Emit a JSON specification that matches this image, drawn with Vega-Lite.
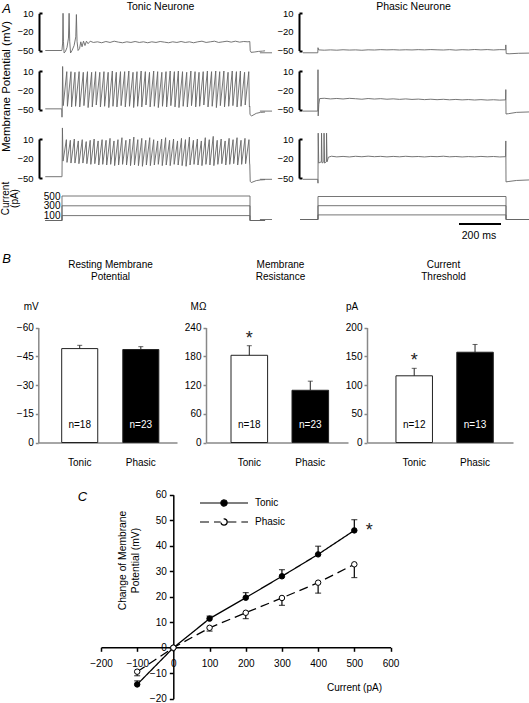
{
"$schema": "https://vega.github.io/schema/vega-lite/v6.json",
"width": 529, "height": 703,
"autosize": {"type": "none"},
"padding": 0,
"config": {
  "font": "Liberation Sans",
  "view": {"stroke": null},
  "axis": {"labelFont": "Liberation Sans", "titleFont": "Liberation Sans", "labelColor": "#000", "titleColor": "#000", "titleFontWeight": "normal", "grid": false, "labelFlush": false, "labelOverlap": false},
  "legend": {"labelFont": "Liberation Sans"},
  "text": {"font": "Liberation Sans"}
},
"datasets": {
"trace": [
{"c":"T1","s":"b","t":20,"v":-50},{"c":"T1","s":"b","t":99,"v":-50},{"c":"T1","s":"b","t":100,"v":-49},{"c":"T1","s":"b","t":103,"v":-38},{"c":"T1","s":"b","t":105,"v":10},{"c":"T1","s":"b","t":107,"v":-35},{"c":"T1","s":"b","t":110,"v":-54},{"c":"T1","s":"b","t":116,"v":-52},{"c":"T1","s":"b","t":124,"v":-45},{"c":"T1","s":"b","t":131,"v":-30},{"c":"T1","s":"b","t":134,"v":10},{"c":"T1","s":"b","t":137,"v":-35},{"c":"T1","s":"b","t":141,"v":-54},{"c":"T1","s":"b","t":148,"v":-50},{"c":"T1","s":"b","t":158,"v":-42},{"c":"T1","s":"b","t":166,"v":-28},{"c":"T1","s":"b","t":169,"v":8},{"c":"T1","s":"b","t":172,"v":-35},{"c":"T1","s":"b","t":177,"v":-50},{"c":"T1","s":"b","t":184,"v":-47},{"c":"T1","s":"b","t":190,"v":-36},{"c":"T1","s":"b","t":196,"v":-44},{"c":"T1","s":"b","t":203,"v":-35},{"c":"T1","s":"b","t":210,"v":-42},{"c":"T1","s":"b","t":217,"v":-35},{"c":"T1","s":"b","t":225,"v":-39},{"c":"T1","s":"b","t":235,"v":-35},{"c":"T1","s":"b","t":250,"v":-37},{"c":"T1","s":"b","t":270,"v":-36},{"c":"T1","s":"b","t":290,"v":-37.5},{"c":"T1","s":"b","t":310,"v":-35.5},{"c":"T1","s":"b","t":330,"v":-37},{"c":"T1","s":"b","t":350,"v":-35},{"c":"T1","s":"b","t":370,"v":-36.5},{"c":"T1","s":"b","t":390,"v":-37.5},{"c":"T1","s":"b","t":410,"v":-36},{"c":"T1","s":"b","t":430,"v":-37},{"c":"T1","s":"b","t":450,"v":-35.5},{"c":"T1","s":"b","t":470,"v":-37},{"c":"T1","s":"b","t":490,"v":-36},{"c":"T1","s":"b","t":510,"v":-37.5},{"c":"T1","s":"b","t":530,"v":-36},{"c":"T1","s":"b","t":550,"v":-37},{"c":"T1","s":"b","t":570,"v":-35.5},{"c":"T1","s":"b","t":590,"v":-36.5},{"c":"T1","s":"b","t":610,"v":-37.5},{"c":"T1","s":"b","t":630,"v":-36},{"c":"T1","s":"b","t":650,"v":-37},{"c":"T1","s":"b","t":670,"v":-35.5},{"c":"T1","s":"b","t":690,"v":-37},{"c":"T1","s":"b","t":710,"v":-36},{"c":"T1","s":"b","t":730,"v":-37.5},{"c":"T1","s":"b","t":750,"v":-36},{"c":"T1","s":"b","t":770,"v":-35},{"c":"T1","s":"b","t":790,"v":-37},{"c":"T1","s":"b","t":810,"v":-36},{"c":"T1","s":"b","t":830,"v":-35},{"c":"T1","s":"b","t":850,"v":-37},{"c":"T1","s":"b","t":870,"v":-36},{"c":"T1","s":"b","t":890,"v":-35},{"c":"T1","s":"b","t":910,"v":-36.5},{"c":"T1","s":"b","t":930,"v":-35},{"c":"T1","s":"b","t":950,"v":-36.5},{"c":"T1","s":"b","t":970,"v":-35.5},{"c":"T1","s":"b","t":990,"v":-36},{"c":"T1","s":"b","t":999,"v":-35.5},{"c":"T1","s":"b","t":1001,"v":-50},{"c":"T1","s":"b","t":1005,"v":-53},{"c":"T1","s":"b","t":1020,"v":-52.5},{"c":"T1","s":"b","t":1040,"v":-51.5},{"c":"T1","s":"b","t":1060,"v":-51},{"c":"T1","s":"b","t":1072,"v":-50.5},
{"c":"T2","s":"b","t":20,"v":-49},{"c":"T2","s":"b","t":99,"v":-49},{"c":"T2","s":"b","t":100,"v":-62},{"c":"T2","s":"b","t":101,"v":-50},
{"c":"T2","s":"b","t":103,"v":17},{"c":"T2","s":"b","t":106,"v":-44},{"c":"T2","s":"b","t":123,"v":9},{"c":"T2","s":"b","t":126,"v":-45},{"c":"T2","s":"b","t":143,"v":9},{"c":"T2","s":"b","t":146,"v":-46},{"c":"T2","s":"b","t":162,"v":8},{"c":"T2","s":"b","t":165,"v":-45},{"c":"T2","s":"b","t":182,"v":9},{"c":"T2","s":"b","t":185,"v":-46},{"c":"T2","s":"b","t":202,"v":8},{"c":"T2","s":"b","t":205,"v":-44},{"c":"T2","s":"b","t":222,"v":9},{"c":"T2","s":"b","t":225,"v":-47},{"c":"T2","s":"b","t":242,"v":8},{"c":"T2","s":"b","t":245,"v":-46},{"c":"T2","s":"b","t":261,"v":9},{"c":"T2","s":"b","t":264,"v":-43},{"c":"T2","s":"b","t":281,"v":8},{"c":"T2","s":"b","t":284,"v":-46},{"c":"T2","s":"b","t":301,"v":9},{"c":"T2","s":"b","t":304,"v":-45},{"c":"T2","s":"b","t":321,"v":8},{"c":"T2","s":"b","t":324,"v":-47},{"c":"T2","s":"b","t":341,"v":10},{"c":"T2","s":"b","t":344,"v":-45},{"c":"T2","s":"b","t":360,"v":8},{"c":"T2","s":"b","t":363,"v":-46},{"c":"T2","s":"b","t":380,"v":9},{"c":"T2","s":"b","t":383,"v":-44},{"c":"T2","s":"b","t":400,"v":9},{"c":"T2","s":"b","t":403,"v":-46},{"c":"T2","s":"b","t":420,"v":10},{"c":"T2","s":"b","t":423,"v":-45},{"c":"T2","s":"b","t":440,"v":8},{"c":"T2","s":"b","t":443,"v":-47},{"c":"T2","s":"b","t":459,"v":9},{"c":"T2","s":"b","t":462,"v":-45},{"c":"T2","s":"b","t":479,"v":10},{"c":"T2","s":"b","t":482,"v":-46},{"c":"T2","s":"b","t":499,"v":9},{"c":"T2","s":"b","t":502,"v":-43},{"c":"T2","s":"b","t":519,"v":8},{"c":"T2","s":"b","t":522,"v":-46},{"c":"T2","s":"b","t":539,"v":10},{"c":"T2","s":"b","t":542,"v":-45},{"c":"T2","s":"b","t":558,"v":9},{"c":"T2","s":"b","t":561,"v":-47},{"c":"T2","s":"b","t":578,"v":8},{"c":"T2","s":"b","t":581,"v":-45},{"c":"T2","s":"b","t":598,"v":9},{"c":"T2","s":"b","t":601,"v":-46},{"c":"T2","s":"b","t":618,"v":10},{"c":"T2","s":"b","t":621,"v":-44},{"c":"T2","s":"b","t":638,"v":9},{"c":"T2","s":"b","t":641,"v":-46},{"c":"T2","s":"b","t":657,"v":10},{"c":"T2","s":"b","t":660,"v":-47},{"c":"T2","s":"b","t":677,"v":9},{"c":"T2","s":"b","t":680,"v":-45},{"c":"T2","s":"b","t":697,"v":8},{"c":"T2","s":"b","t":700,"v":-46},{"c":"T2","s":"b","t":717,"v":10},{"c":"T2","s":"b","t":720,"v":-44},{"c":"T2","s":"b","t":737,"v":9},{"c":"T2","s":"b","t":740,"v":-46},{"c":"T2","s":"b","t":756,"v":8},{"c":"T2","s":"b","t":759,"v":-45},{"c":"T2","s":"b","t":776,"v":9},{"c":"T2","s":"b","t":779,"v":-43},{"c":"T2","s":"b","t":796,"v":10},{"c":"T2","s":"b","t":799,"v":-46},{"c":"T2","s":"b","t":816,"v":9},{"c":"T2","s":"b","t":819,"v":-45},{"c":"T2","s":"b","t":836,"v":10},{"c":"T2","s":"b","t":839,"v":-47},{"c":"T2","s":"b","t":855,"v":9},{"c":"T2","s":"b","t":858,"v":-44},{"c":"T2","s":"b","t":875,"v":10},{"c":"T2","s":"b","t":878,"v":-46},{"c":"T2","s":"b","t":895,"v":8},{"c":"T2","s":"b","t":898,"v":-45},{"c":"T2","s":"b","t":915,"v":10},{"c":"T2","s":"b","t":918,"v":-44},{"c":"T2","s":"b","t":935,"v":9},{"c":"T2","s":"b","t":938,"v":-46},{"c":"T2","s":"b","t":954,"v":10},{"c":"T2","s":"b","t":957,"v":-45},{"c":"T2","s":"b","t":974,"v":8},{"c":"T2","s":"b","t":977,"v":-43},{"c":"T2","s":"b","t":994,"v":9},{"c":"T2","s":"b","t":997,"v":-46},
{"c":"T2","s":"b","t":999,"v":-45},{"c":"T2","s":"b","t":1000,"v":-58},{"c":"T2","s":"b","t":1008,"v":-60},{"c":"T2","s":"b","t":1030,"v":-56},{"c":"T2","s":"b","t":1050,"v":-54.5},{"c":"T2","s":"b","t":1072,"v":-54},
{"c":"T3","s":"b","t":20,"v":-48},{"c":"T3","s":"b","t":99,"v":-48},{"c":"T3","s":"b","t":100,"v":-48},
{"c":"T3","s":"b","t":102,"v":27},{"c":"T3","s":"b","t":105,"v":-24},{"c":"T3","s":"b","t":121,"v":9},{"c":"T3","s":"b","t":124,"v":-26},{"c":"T3","s":"b","t":140,"v":8},{"c":"T3","s":"b","t":143,"v":-27},{"c":"T3","s":"b","t":159,"v":10},{"c":"T3","s":"b","t":162,"v":-27},{"c":"T3","s":"b","t":178,"v":7},{"c":"T3","s":"b","t":181,"v":-28},{"c":"T3","s":"b","t":197,"v":9},{"c":"T3","s":"b","t":200,"v":-27},{"c":"T3","s":"b","t":216,"v":6},{"c":"T3","s":"b","t":219,"v":-28},{"c":"T3","s":"b","t":235,"v":8},{"c":"T3","s":"b","t":238,"v":-29},{"c":"T3","s":"b","t":254,"v":10},{"c":"T3","s":"b","t":257,"v":-28},{"c":"T3","s":"b","t":273,"v":7},{"c":"T3","s":"b","t":276,"v":-30},{"c":"T3","s":"b","t":292,"v":9},{"c":"T3","s":"b","t":295,"v":-29},{"c":"T3","s":"b","t":311,"v":8},{"c":"T3","s":"b","t":314,"v":-30},{"c":"T3","s":"b","t":330,"v":11},{"c":"T3","s":"b","t":333,"v":-29},{"c":"T3","s":"b","t":349,"v":7},{"c":"T3","s":"b","t":352,"v":-31},{"c":"T3","s":"b","t":368,"v":9},{"c":"T3","s":"b","t":371,"v":-30},{"c":"T3","s":"b","t":387,"v":12},{"c":"T3","s":"b","t":390,"v":-29},{"c":"T3","s":"b","t":406,"v":8},{"c":"T3","s":"b","t":409,"v":-30},{"c":"T3","s":"b","t":425,"v":10},{"c":"T3","s":"b","t":428,"v":-31},{"c":"T3","s":"b","t":444,"v":13},{"c":"T3","s":"b","t":447,"v":-30},{"c":"T3","s":"b","t":463,"v":9},{"c":"T3","s":"b","t":466,"v":-31},{"c":"T3","s":"b","t":482,"v":11},{"c":"T3","s":"b","t":485,"v":-32},{"c":"T3","s":"b","t":501,"v":8},{"c":"T3","s":"b","t":504,"v":-30},{"c":"T3","s":"b","t":520,"v":12},{"c":"T3","s":"b","t":523,"v":-31},{"c":"T3","s":"b","t":539,"v":9},{"c":"T3","s":"b","t":542,"v":-30},{"c":"T3","s":"b","t":558,"v":7},{"c":"T3","s":"b","t":561,"v":-29},{"c":"T3","s":"b","t":577,"v":10},{"c":"T3","s":"b","t":580,"v":-31},{"c":"T3","s":"b","t":596,"v":12},{"c":"T3","s":"b","t":599,"v":-30},{"c":"T3","s":"b","t":615,"v":8},{"c":"T3","s":"b","t":618,"v":-31},{"c":"T3","s":"b","t":634,"v":10},{"c":"T3","s":"b","t":637,"v":-29},{"c":"T3","s":"b","t":653,"v":7},{"c":"T3","s":"b","t":656,"v":-30},{"c":"T3","s":"b","t":672,"v":11},{"c":"T3","s":"b","t":675,"v":-31},{"c":"T3","s":"b","t":691,"v":9},{"c":"T3","s":"b","t":694,"v":-32},{"c":"T3","s":"b","t":710,"v":13},{"c":"T3","s":"b","t":713,"v":-30},{"c":"T3","s":"b","t":729,"v":8},{"c":"T3","s":"b","t":732,"v":-29},{"c":"T3","s":"b","t":748,"v":10},{"c":"T3","s":"b","t":751,"v":-30},{"c":"T3","s":"b","t":767,"v":7},{"c":"T3","s":"b","t":770,"v":-31},{"c":"T3","s":"b","t":786,"v":12},{"c":"T3","s":"b","t":789,"v":-29},{"c":"T3","s":"b","t":805,"v":9},{"c":"T3","s":"b","t":808,"v":-30},{"c":"T3","s":"b","t":824,"v":14},{"c":"T3","s":"b","t":827,"v":-31},{"c":"T3","s":"b","t":843,"v":8},{"c":"T3","s":"b","t":846,"v":-29},{"c":"T3","s":"b","t":862,"v":10},{"c":"T3","s":"b","t":865,"v":-28},{"c":"T3","s":"b","t":881,"v":7},{"c":"T3","s":"b","t":884,"v":-30},{"c":"T3","s":"b","t":900,"v":11},{"c":"T3","s":"b","t":903,"v":-29},{"c":"T3","s":"b","t":919,"v":9},{"c":"T3","s":"b","t":922,"v":-28},{"c":"T3","s":"b","t":938,"v":12},{"c":"T3","s":"b","t":941,"v":-30},{"c":"T3","s":"b","t":957,"v":8},{"c":"T3","s":"b","t":960,"v":-29},{"c":"T3","s":"b","t":976,"v":11},{"c":"T3","s":"b","t":979,"v":-28},{"c":"T3","s":"b","t":995,"v":9},{"c":"T3","s":"b","t":998,"v":-27},
{"c":"T3","s":"b","t":999,"v":-30},{"c":"T3","s":"b","t":1001,"v":-55},{"c":"T3","s":"b","t":1006,"v":-57},{"c":"T3","s":"b","t":1030,"v":-54},{"c":"T3","s":"b","t":1050,"v":-53},{"c":"T3","s":"b","t":1072,"v":-52.5},
{"c":"TI","s":"100","t":20,"v":0},{"c":"TI","s":"100","t":100,"v":0},{"c":"TI","s":"100","t":100,"v":100},{"c":"TI","s":"100","t":1000,"v":100},{"c":"TI","s":"100","t":1000,"v":0},{"c":"TI","s":"100","t":1072,"v":0},
{"c":"TI","s":"300","t":20,"v":0},{"c":"TI","s":"300","t":100,"v":0},{"c":"TI","s":"300","t":100,"v":300},{"c":"TI","s":"300","t":1000,"v":300},{"c":"TI","s":"300","t":1000,"v":0},{"c":"TI","s":"300","t":1072,"v":0},
{"c":"TI","s":"500","t":20,"v":0},{"c":"TI","s":"500","t":100,"v":0},{"c":"TI","s":"500","t":100,"v":500},{"c":"TI","s":"500","t":1000,"v":500},{"c":"TI","s":"500","t":1000,"v":0},{"c":"TI","s":"500","t":1072,"v":0},
{"c":"P1","s":"a","t":-178,"v":-53.7},{"c":"P1","s":"a","t":-120,"v":-53.7},
{"c":"P1","s":"b","t":28,"v":-53.7},{"c":"P1","s":"b","t":99,"v":-53.7},{"c":"P1","s":"b","t":100,"v":-45.5},{"c":"P1","s":"b","t":103,"v":-49},{"c":"P1","s":"b","t":130,"v":-49.5},{"c":"P1","s":"b","t":160,"v":-49},{"c":"P1","s":"b","t":190,"v":-49.5},{"c":"P1","s":"b","t":220,"v":-48.8},{"c":"P1","s":"b","t":250,"v":-49.3},{"c":"P1","s":"b","t":280,"v":-49},{"c":"P1","s":"b","t":310,"v":-49.6},{"c":"P1","s":"b","t":340,"v":-48.9},{"c":"P1","s":"b","t":370,"v":-49.2},{"c":"P1","s":"b","t":400,"v":-48.6},{"c":"P1","s":"b","t":430,"v":-49},{"c":"P1","s":"b","t":460,"v":-48.7},{"c":"P1","s":"b","t":490,"v":-49.2},{"c":"P1","s":"b","t":520,"v":-48.8},{"c":"P1","s":"b","t":550,"v":-49.1},{"c":"P1","s":"b","t":580,"v":-48.6},{"c":"P1","s":"b","t":610,"v":-49},{"c":"P1","s":"b","t":640,"v":-48.5},{"c":"P1","s":"b","t":670,"v":-48.9},{"c":"P1","s":"b","t":700,"v":-49.2},{"c":"P1","s":"b","t":730,"v":-48.6},{"c":"P1","s":"b","t":760,"v":-49.4},{"c":"P1","s":"b","t":790,"v":-48.7},{"c":"P1","s":"b","t":820,"v":-49.1},{"c":"P1","s":"b","t":850,"v":-48.4},{"c":"P1","s":"b","t":880,"v":-49},{"c":"P1","s":"b","t":910,"v":-48.5},{"c":"P1","s":"b","t":940,"v":-49.2},{"c":"P1","s":"b","t":970,"v":-48.6},{"c":"P1","s":"b","t":998,"v":-48.8},{"c":"P1","s":"b","t":999,"v":-41},{"c":"P1","s":"b","t":1001,"v":-55},{"c":"P1","s":"b","t":1015,"v":-55.3},{"c":"P1","s":"b","t":1060,"v":-54.5},{"c":"P1","s":"b","t":1110,"v":-54.2},
{"c":"P2","s":"a","t":-178,"v":-52.5},{"c":"P2","s":"a","t":-120,"v":-52.5},
{"c":"P2","s":"b","t":28,"v":-52.5},{"c":"P2","s":"b","t":99,"v":-52.5},{"c":"P2","s":"b","t":100,"v":12},{"c":"P2","s":"b","t":101,"v":-60},{"c":"P2","s":"b","t":104,"v":-42},{"c":"P2","s":"b","t":108,"v":-33},{"c":"P2","s":"b","t":130,"v":-32.5},{"c":"P2","s":"b","t":160,"v":-33.5},{"c":"P2","s":"b","t":190,"v":-32.8},{"c":"P2","s":"b","t":220,"v":-33.6},{"c":"P2","s":"b","t":250,"v":-32.6},{"c":"P2","s":"b","t":280,"v":-33.2},{"c":"P2","s":"b","t":310,"v":-34},{"c":"P2","s":"b","t":340,"v":-32.9},{"c":"P2","s":"b","t":370,"v":-33.7},{"c":"P2","s":"b","t":400,"v":-33.1},{"c":"P2","s":"b","t":430,"v":-34},{"c":"P2","s":"b","t":460,"v":-33.4},{"c":"P2","s":"b","t":490,"v":-34.2},{"c":"P2","s":"b","t":520,"v":-33.5},{"c":"P2","s":"b","t":550,"v":-34.3},{"c":"P2","s":"b","t":580,"v":-33.8},{"c":"P2","s":"b","t":610,"v":-34.6},{"c":"P2","s":"b","t":640,"v":-34},{"c":"P2","s":"b","t":670,"v":-34.7},{"c":"P2","s":"b","t":700,"v":-34.1},{"c":"P2","s":"b","t":730,"v":-34.9},{"c":"P2","s":"b","t":760,"v":-34.3},{"c":"P2","s":"b","t":790,"v":-35},{"c":"P2","s":"b","t":820,"v":-34.5},{"c":"P2","s":"b","t":850,"v":-35.2},{"c":"P2","s":"b","t":880,"v":-34.6},{"c":"P2","s":"b","t":910,"v":-35.3},{"c":"P2","s":"b","t":940,"v":-34.8},{"c":"P2","s":"b","t":970,"v":-35.4},{"c":"P2","s":"b","t":998,"v":-35},{"c":"P2","s":"b","t":999,"v":-19},{"c":"P2","s":"b","t":1000,"v":-57},{"c":"P2","s":"b","t":1012,"v":-56.5},{"c":"P2","s":"b","t":1050,"v":-54.5},{"c":"P2","s":"b","t":1110,"v":-53.8},
{"c":"P3","s":"a","t":-178,"v":-52},{"c":"P3","s":"a","t":-120,"v":-52},
{"c":"P3","s":"b","t":28,"v":-52},{"c":"P3","s":"b","t":99,"v":-52},{"c":"P3","s":"b","t":100,"v":-58},{"c":"P3","s":"b","t":101,"v":19},{"c":"P3","s":"b","t":103.5,"v":-27},{"c":"P3","s":"b","t":116,"v":-25},{"c":"P3","s":"b","t":117,"v":19},{"c":"P3","s":"b","t":119.5,"v":-27},{"c":"P3","s":"b","t":128,"v":-25},{"c":"P3","s":"b","t":129,"v":19},{"c":"P3","s":"b","t":131.5,"v":-27},{"c":"P3","s":"b","t":140,"v":-25},{"c":"P3","s":"b","t":141,"v":19},{"c":"P3","s":"b","t":143.5,"v":-25},{"c":"P3","s":"b","t":150,"v":-18},{"c":"P3","s":"b","t":165,"v":-16.5},{"c":"P3","s":"b","t":190,"v":-17.5},{"c":"P3","s":"b","t":220,"v":-16.8},{"c":"P3","s":"b","t":250,"v":-17.6},{"c":"P3","s":"b","t":280,"v":-16.6},{"c":"P3","s":"b","t":310,"v":-17.3},{"c":"P3","s":"b","t":340,"v":-16.4},{"c":"P3","s":"b","t":370,"v":-17.2},{"c":"P3","s":"b","t":400,"v":-16.7},{"c":"P3","s":"b","t":430,"v":-17.5},{"c":"P3","s":"b","t":460,"v":-16.8},{"c":"P3","s":"b","t":490,"v":-17.4},{"c":"P3","s":"b","t":520,"v":-16.6},{"c":"P3","s":"b","t":550,"v":-17.3},{"c":"P3","s":"b","t":580,"v":-16.9},{"c":"P3","s":"b","t":610,"v":-17.6},{"c":"P3","s":"b","t":640,"v":-16.8},{"c":"P3","s":"b","t":670,"v":-17.2},{"c":"P3","s":"b","t":700,"v":-16.5},{"c":"P3","s":"b","t":730,"v":-17.4},{"c":"P3","s":"b","t":760,"v":-16.9},{"c":"P3","s":"b","t":790,"v":-17.6},{"c":"P3","s":"b","t":820,"v":-17},{"c":"P3","s":"b","t":850,"v":-17.5},{"c":"P3","s":"b","t":880,"v":-16.8},{"c":"P3","s":"b","t":910,"v":-17.4},{"c":"P3","s":"b","t":940,"v":-16.9},{"c":"P3","s":"b","t":970,"v":-17.6},{"c":"P3","s":"b","t":998,"v":-17.2},{"c":"P3","s":"b","t":999,"v":7},{"c":"P3","s":"b","t":1000,"v":-56},{"c":"P3","s":"b","t":1010,"v":-55.5},{"c":"P3","s":"b","t":1050,"v":-53.8},{"c":"P3","s":"b","t":1110,"v":-53},
{"c":"PI","s":"a","t":-178,"v":0},{"c":"PI","s":"a","t":-120,"v":0},
{"c":"PI","s":"100","t":14,"v":0},{"c":"PI","s":"100","t":100,"v":0},{"c":"PI","s":"100","t":100,"v":100},{"c":"PI","s":"100","t":1000,"v":100},{"c":"PI","s":"100","t":1000,"v":0},{"c":"PI","s":"100","t":1110,"v":0},
{"c":"PI","s":"300","t":14,"v":0},{"c":"PI","s":"300","t":100,"v":0},{"c":"PI","s":"300","t":100,"v":300},{"c":"PI","s":"300","t":1000,"v":300},{"c":"PI","s":"300","t":1000,"v":0},{"c":"PI","s":"300","t":1110,"v":0},
{"c":"PI","s":"500","t":14,"v":0},{"c":"PI","s":"500","t":100,"v":0},{"c":"PI","s":"500","t":100,"v":500},{"c":"PI","s":"500","t":1000,"v":500},{"c":"PI","s":"500","t":1000,"v":0},{"c":"PI","s":"500","t":1110,"v":0}
],
"bars": [
{"panel":"rmp","group":"Tonic","mean":-49,"ebar":-50.7,"n":"n=18","sig":""},
{"panel":"rmp","group":"Phasic","mean":-48.5,"ebar":-50,"n":"n=23","sig":""},
{"panel":"res","group":"Tonic","mean":182,"ebar":202,"n":"n=18","sig":"*"},
{"panel":"res","group":"Phasic","mean":109,"ebar":128,"n":"n=23","sig":""},
{"panel":"thr","group":"Tonic","mean":116,"ebar":129,"n":"n=12","sig":"*"},
{"panel":"thr","group":"Phasic","mean":157,"ebar":170.5,"n":"n=13","sig":""}
],
"iv": [
{"series":"Tonic","I":-100,"mean":-14.4,"ebar":-13,"sig":""},
{"series":"Tonic","I":0,"mean":0,"ebar":null,"sig":""},
{"series":"Tonic","I":100,"mean":11.4,"ebar":12.4,"sig":""},
{"series":"Tonic","I":200,"mean":19.6,"ebar":21.6,"sig":""},
{"series":"Tonic","I":300,"mean":28,"ebar":30.6,"sig":""},
{"series":"Tonic","I":400,"mean":36.6,"ebar":39.8,"sig":""},
{"series":"Tonic","I":500,"mean":46,"ebar":50.2,"sig":"*"},
{"series":"Phasic","I":-100,"mean":-9.4,"ebar":-11,"sig":""},
{"series":"Phasic","I":0,"mean":0,"ebar":null,"sig":""},
{"series":"Phasic","I":100,"mean":7.8,"ebar":6.5,"sig":""},
{"series":"Phasic","I":200,"mean":13.7,"ebar":11.4,"sig":""},
{"series":"Phasic","I":300,"mean":19.5,"ebar":16.6,"sig":""},
{"series":"Phasic","I":400,"mean":25.5,"ebar":21.4,"sig":""},
{"series":"Phasic","I":500,"mean":32.7,"ebar":27.5,"sig":""}
]
},
"resolve": {
  "scale": {"x": "independent", "y": "independent", "fill": "independent", "strokeDash": "independent", "color": "independent"},
  "axis": {"x": "independent", "y": "independent"}
},
"layer": [
{
  "data": {"name": "trace"},
  "transform": [{"filter": "datum.c === 'T1'"}],
  "mark": {"type": "line", "color": "#666", "strokeWidth": 0.9},
  "encoding": {
    "x": {"field": "t", "type": "quantitative", "scale": {"domain": [0, 1100], "range": [41.1, 270.9], "nice": false, "zero": false},
      "axis": {"orient": "top", "offset": 0, "domain": false, "ticks": false, "labels": false, "title": "Tonic Neurone", "titleX": 160, "titleY": 6, "titleAlign": "center", "titleBaseline": "middle", "titleAngle": 0, "titleFontSize": 10.5}},
    "y": {"field": "v", "type": "quantitative", "scale": {"domain": [-50, 10], "range": [50.5, 13.3], "nice": false, "zero": false},
      "axis": {"orient": "left", "offset": -39, "values": [10, -20, -50], "domainColor": "#000", "domainWidth": 2, "tickColor": "#000", "tickWidth": 2, "tickSize": -3, "tickOpacity": {"condition": {"test": "datum.value === -20", "value": 0}, "value": 1}, "labelFontSize": 9.5, "labelPadding": 9, "title": null}},
    "detail": {"field": "s"},
    "order": {"value": null}
  }
},
{
  "data": {"name": "trace"},
  "transform": [{"filter": "datum.c === 'T2'"}],
  "mark": {"type": "line", "color": "#666", "strokeWidth": 0.9},
  "encoding": {
    "x": {"field": "t", "type": "quantitative", "scale": {"domain": [0, 1100], "range": [41.1, 270.9], "nice": false, "zero": false},
      "axis": {"orient": "top", "offset": 0, "domain": false, "ticks": false, "labels": false, "title": "A", "titleX": 6, "titleY": 8.5, "titleAlign": "center", "titleBaseline": "middle", "titleAngle": 0, "titleFontSize": 13, "titleFontStyle": "italic"}},
    "y": {"field": "v", "type": "quantitative", "scale": {"domain": [-50, 10], "range": [109.5, 71], "nice": false, "zero": false},
      "axis": {"orient": "left", "offset": -39, "values": [10, -20, -50], "domainColor": "#000", "domainWidth": 2, "tickColor": "#000", "tickWidth": 2, "tickSize": -3, "tickOpacity": {"condition": {"test": "datum.value === -20", "value": 0}, "value": 1}, "labelFontSize": 9.5, "labelPadding": 9,
        "title": "Membrane Potential (mV)", "titleAngle": -90, "titleX": -38.5, "titleY": 86, "titleAlign": "center", "titleBaseline": "top", "titleFontSize": 11.5}},
    "detail": {"field": "s"},
    "order": {"value": null}
  }
},
{
  "data": {"name": "trace"},
  "transform": [{"filter": "datum.c === 'T3'"}],
  "mark": {"type": "line", "color": "#666", "strokeWidth": 0.9},
  "encoding": {
    "x": {"field": "t", "type": "quantitative", "scale": {"domain": [0, 1100], "range": [41.1, 270.9], "nice": false, "zero": false},
      "axis": {"orient": "top", "offset": 0, "domain": false, "ticks": false, "labels": false, "title": "B", "titleX": 6, "titleY": 258, "titleAlign": "center", "titleBaseline": "middle", "titleAngle": 0, "titleFontSize": 13, "titleFontStyle": "italic"}},
    "y": {"field": "v", "type": "quantitative", "scale": {"domain": [-50, 10], "range": [178, 139], "nice": false, "zero": false},
      "axis": {"orient": "left", "offset": -39, "values": [10, -20, -50], "domainColor": "#000", "domainWidth": 2, "tickColor": "#000", "tickWidth": 2, "tickSize": -3, "tickOpacity": {"condition": {"test": "datum.value === -20", "value": 0}, "value": 1}, "labelFontSize": 9.5, "labelPadding": 9, "title": null}},
    "detail": {"field": "s"},
    "order": {"value": null}
  }
},
{
  "data": {"name": "trace"},
  "transform": [{"filter": "datum.c === 'TI'"}],
  "mark": {"type": "line", "color": "#666", "strokeWidth": 0.9},
  "encoding": {
    "x": {"field": "t", "type": "quantitative", "scale": {"domain": [0, 1100], "range": [41.1, 270.9], "nice": false, "zero": false}, "axis": null},
    "y": {"field": "v", "type": "quantitative", "scale": {"domain": [0, 500], "range": [220.5, 196], "nice": false, "zero": false},
      "axis": {"orient": "left", "offset": -62, "values": [500, 300, 100], "domain": false, "ticks": false, "labelPadding": 2, "labelFontSize": 10,
        "title": ["Current", "(pA)"], "titleAngle": -90, "titleX": -62, "titleY": 198, "titleAlign": "center", "titleBaseline": "top", "titleLineHeight": 9.5, "titleFontSize": 10}},
    "detail": {"field": "s"},
    "order": {"value": null}
  }
},
{
  "data": {"name": "trace"},
  "transform": [{"filter": "datum.c === 'P1'"}],
  "mark": {"type": "line", "color": "#666", "strokeWidth": 0.9},
  "encoding": {
    "x": {"field": "t", "type": "quantitative", "scale": {"domain": [0, 1100], "range": [297.1, 526.9], "nice": false, "zero": false},
      "axis": {"orient": "top", "offset": 0, "domain": false, "ticks": false, "labels": false, "title": "Phasic Neurone", "titleX": 413, "titleY": 6, "titleAlign": "center", "titleBaseline": "middle", "titleAngle": 0, "titleFontSize": 10.5}},
    "y": {"field": "v", "type": "quantitative", "scale": {"domain": [-50, 10], "range": [50.5, 13.3], "nice": false, "zero": false},
      "axis": {"orient": "left", "offset": -299, "values": [10, -20, -50], "domainColor": "#000", "domainWidth": 2, "tickColor": "#000", "tickWidth": 2, "tickSize": -3, "tickOpacity": {"condition": {"test": "datum.value === -20", "value": 0}, "value": 1}, "labelFontSize": 9.5, "labelPadding": 9, "title": null}},
    "detail": {"field": "s"},
    "order": {"value": null}
  }
},
{
  "data": {"name": "trace"},
  "transform": [{"filter": "datum.c === 'P2'"}],
  "mark": {"type": "line", "color": "#666", "strokeWidth": 0.9},
  "encoding": {
    "x": {"field": "t", "type": "quantitative", "scale": {"domain": [0, 1100], "range": [297.1, 526.9], "nice": false, "zero": false},
      "axis": {"orient": "top", "offset": 0, "domain": false, "ticks": false, "labels": false, "title": "C", "titleX": 82, "titleY": 496, "titleAlign": "center", "titleBaseline": "middle", "titleAngle": 0, "titleFontSize": 13, "titleFontStyle": "italic"}},
    "y": {"field": "v", "type": "quantitative", "scale": {"domain": [-50, 10], "range": [109.5, 71], "nice": false, "zero": false},
      "axis": {"orient": "left", "offset": -299, "values": [10, -20, -50], "domainColor": "#000", "domainWidth": 2, "tickColor": "#000", "tickWidth": 2, "tickSize": -3, "tickOpacity": {"condition": {"test": "datum.value === -20", "value": 0}, "value": 1}, "labelFontSize": 9.5, "labelPadding": 9, "title": null}},
    "detail": {"field": "s"},
    "order": {"value": null}
  }
},
{
  "data": {"name": "trace"},
  "transform": [{"filter": "datum.c === 'P3'"}],
  "mark": {"type": "line", "color": "#666", "strokeWidth": 0.9},
  "encoding": {
    "x": {"field": "t", "type": "quantitative", "scale": {"domain": [0, 1100], "range": [297.1, 526.9], "nice": false, "zero": false}, "axis": null},
    "y": {"field": "v", "type": "quantitative", "scale": {"domain": [-50, 10], "range": [178, 139], "nice": false, "zero": false},
      "axis": {"orient": "left", "offset": -299, "values": [10, -20, -50], "domainColor": "#000", "domainWidth": 2, "tickColor": "#000", "tickWidth": 2, "tickSize": -3, "tickOpacity": {"condition": {"test": "datum.value === -20", "value": 0}, "value": 1}, "labelFontSize": 9.5, "labelPadding": 9, "title": null}},
    "detail": {"field": "s"},
    "order": {"value": null}
  }
},
{
  "data": {"name": "trace"},
  "transform": [{"filter": "datum.c === 'PI'"}],
  "mark": {"type": "line", "color": "#666", "strokeWidth": 0.9},
  "encoding": {
    "x": {"field": "t", "type": "quantitative", "scale": {"domain": [0, 1100], "range": [297.1, 526.9], "nice": false, "zero": false}, "axis": null},
    "y": {"field": "v", "type": "quantitative", "scale": {"domain": [0, 500], "range": [219.5, 196.5], "nice": false, "zero": false}, "axis": null},
    "detail": {"field": "s"},
    "order": {"value": null}
  }
},
{
  "data": {"values": [{"start": 0, "end": 200}]},
  "mark": {"type": "rule", "color": "#000", "strokeWidth": 2},
  "encoding": {
    "x": {"field": "start", "type": "quantitative", "scale": {"domain": [0, 200], "range": [459, 501], "nice": false, "zero": false},
      "axis": {"orient": "bottom", "offset": -479, "domain": false, "ticks": false, "labels": false, "title": "200 ms", "titleX": 478.5, "titleY": 11, "titleAlign": "center", "titleBaseline": "middle", "titleAngle": 0, "titleFontSize": 10.5}},
    "x2": {"field": "end"},
    "y": {"datum": 0, "type": "quantitative", "scale": {"domain": [0, 1], "range": [224, 225], "nice": false, "zero": false}, "axis": null}
  }
},
{
  "data": {"name": "bars"},
  "transform": [{"filter": "datum.panel === 'rmp'"}],
  "encoding": {
    "x": {"field": "group", "type": "nominal", "scale": {"domain": ["Tonic", "Phasic"], "range": [38.3, 177], "paddingInner": 0.41, "paddingOuter": 0.34, "align": 0.563},
      "axis": {"orient": "bottom", "offset": -260.5, "domainColor": "#888", "domainWidth": 1.5, "ticks": false, "labelPadding": 20, "labelBaseline": "middle", "labelAngle": 0, "labelFontSize": 10,
        "title": ["Resting Membrane", "Potential"], "titleX": 110, "titleY": -183.2, "titleAlign": "center", "titleBaseline": "top", "titleLineHeight": 12, "titleFontSize": 10, "titleAngle": 0}}
  },
  "layer": [
    {"mark": {"type": "bar", "stroke": "#222", "strokeWidth": 1},
     "encoding": {
       "y": {"field": "mean", "type": "quantitative", "scale": {"domain": [-60, 0], "range": [327.5, 442.5], "nice": false},
         "axis": {"orient": "left", "offset": -38.3, "values": [0, -15, -30, -45, -60], "domainColor": "#888", "domainWidth": 1.5, "tickColor": "#888", "tickWidth": 1.5, "tickSize": 3, "labelPadding": 2, "labelFontSize": 10,
           "title": "mV", "titleAngle": 0, "titleX": -7.6, "titleY": 306, "titleAlign": "center", "titleBaseline": "middle", "titleFontSize": 10}},
       "fill": {"condition": {"test": "datum.group === 'Phasic'", "value": "#000"}, "value": "#fff"}}},
    {"mark": {"type": "rule", "color": "#222", "strokeWidth": 1},
     "encoding": {"y": {"field": "mean", "type": "quantitative"}, "y2": {"field": "ebar"}}},
    {"mark": {"type": "tick", "orient": "horizontal", "size": 5, "thickness": 1, "color": "#222"},
     "encoding": {"y": {"field": "ebar", "type": "quantitative"}}},
    {"mark": {"type": "text", "fontSize": 10, "dy": -18, "baseline": "middle"},
     "encoding": {"y": {"datum": 0, "type": "quantitative"}, "text": {"field": "n"},
       "color": {"condition": {"test": "datum.group === 'Phasic'", "value": "#fff"}, "value": "#000"}}},
    {"mark": {"type": "text", "fontSize": 18, "dy": -2, "baseline": "alphabetic", "color": "#222"},
     "encoding": {"y": {"field": "ebar", "type": "quantitative"}, "text": {"field": "sig"}}}
  ]
},
{
  "data": {"name": "bars"},
  "transform": [{"filter": "datum.panel === 'res'"}],
  "encoding": {
    "x": {"field": "group", "type": "nominal", "scale": {"domain": ["Tonic", "Phasic"], "range": [206, 348], "paddingInner": 0.4, "paddingOuter": 0.364, "align": 0.563},
      "axis": {"orient": "bottom", "offset": -260.5, "domainColor": "#888", "domainWidth": 1.5, "ticks": false, "labelPadding": 20, "labelBaseline": "middle", "labelAngle": 0, "labelFontSize": 10,
        "title": ["Membrane", "Resistance"], "titleX": 280, "titleY": -183.2, "titleAlign": "center", "titleBaseline": "top", "titleLineHeight": 12, "titleFontSize": 10, "titleAngle": 0}}
  },
  "layer": [
    {"mark": {"type": "bar", "stroke": "#222", "strokeWidth": 1},
     "encoding": {
       "y": {"field": "mean", "type": "quantitative", "scale": {"domain": [0, 240], "range": [442.5, 327.5], "nice": false},
         "axis": {"orient": "left", "offset": -206, "values": [0, 60, 120, 180, 240], "domainColor": "#888", "domainWidth": 1.5, "tickColor": "#888", "tickWidth": 1.5, "tickSize": 3, "labelPadding": 2, "labelFontSize": 10,
           "title": "MΩ", "titleAngle": 0, "titleX": -8, "titleY": 306, "titleAlign": "center", "titleBaseline": "middle", "titleFontSize": 10}},
       "fill": {"condition": {"test": "datum.group === 'Phasic'", "value": "#000"}, "value": "#fff"}}},
    {"mark": {"type": "rule", "color": "#222", "strokeWidth": 1},
     "encoding": {"y": {"field": "mean", "type": "quantitative"}, "y2": {"field": "ebar"}}},
    {"mark": {"type": "tick", "orient": "horizontal", "size": 5, "thickness": 1, "color": "#222"},
     "encoding": {"y": {"field": "ebar", "type": "quantitative"}}},
    {"mark": {"type": "text", "fontSize": 10, "dy": -18, "baseline": "middle"},
     "encoding": {"y": {"datum": 0, "type": "quantitative"}, "text": {"field": "n"},
       "color": {"condition": {"test": "datum.group === 'Phasic'", "value": "#fff"}, "value": "#000"}}},
    {"mark": {"type": "text", "fontSize": 18, "dy": -2, "baseline": "alphabetic", "color": "#222"},
     "encoding": {"y": {"field": "ebar", "type": "quantitative"}, "text": {"field": "sig"}}}
  ]
},
{
  "data": {"name": "bars"},
  "transform": [{"filter": "datum.panel === 'thr'"}],
  "encoding": {
    "x": {"field": "group", "type": "nominal", "scale": {"domain": ["Tonic", "Phasic"], "range": [367, 513], "paddingInner": 0.4, "paddingOuter": 0.4, "align": 0.595},
      "axis": {"orient": "bottom", "offset": -260.5, "domainColor": "#888", "domainWidth": 1.5, "ticks": false, "labelPadding": 20, "labelBaseline": "middle", "labelAngle": 0, "labelFontSize": 10,
        "title": ["Current", "Threshold"], "titleX": 443, "titleY": -183.2, "titleAlign": "center", "titleBaseline": "top", "titleLineHeight": 12, "titleFontSize": 10, "titleAngle": 0}}
  },
  "layer": [
    {"mark": {"type": "bar", "stroke": "#222", "strokeWidth": 1},
     "encoding": {
       "y": {"field": "mean", "type": "quantitative", "scale": {"domain": [0, 200], "range": [442.5, 327.5], "nice": false},
         "axis": {"orient": "left", "offset": -367, "values": [0, 50, 100, 150, 200], "domainColor": "#888", "domainWidth": 1.5, "tickColor": "#888", "tickWidth": 1.5, "tickSize": 3, "labelPadding": 2, "labelFontSize": 10,
           "title": "pA", "titleAngle": 0, "titleX": -15.5, "titleY": 306, "titleAlign": "center", "titleBaseline": "middle", "titleFontSize": 10}},
       "fill": {"condition": {"test": "datum.group === 'Phasic'", "value": "#000"}, "value": "#fff"}}},
    {"mark": {"type": "rule", "color": "#222", "strokeWidth": 1},
     "encoding": {"y": {"field": "mean", "type": "quantitative"}, "y2": {"field": "ebar"}}},
    {"mark": {"type": "tick", "orient": "horizontal", "size": 5, "thickness": 1, "color": "#222"},
     "encoding": {"y": {"field": "ebar", "type": "quantitative"}}},
    {"mark": {"type": "text", "fontSize": 10, "dy": -18, "baseline": "middle"},
     "encoding": {"y": {"datum": 0, "type": "quantitative"}, "text": {"field": "n"},
       "color": {"condition": {"test": "datum.group === 'Phasic'", "value": "#fff"}, "value": "#000"}}},
    {"mark": {"type": "text", "fontSize": 18, "dy": -2, "baseline": "alphabetic", "color": "#222"},
     "encoding": {"y": {"field": "ebar", "type": "quantitative"}, "text": {"field": "sig"}}}
  ]
},
{
  "data": {"name": "iv"},
  "encoding": {
    "x": {"field": "I", "type": "quantitative", "scale": {"domain": [-200, 600], "range": [101, 390.5], "nice": false, "zero": false},
      "axis": {"orient": "bottom", "offset": -55.7, "values": [-200, -100, 0, 100, 200, 300, 400, 500, 600], "domainColor": "#000", "domainWidth": 1.5, "tickColor": "#000", "tickWidth": 1.5, "tickSize": 4, "labelPadding": 7.5, "labelFontSize": 10, "labelBaseline": "top",
        "title": "Current (pA)", "titleX": 354, "titleY": 40, "titleAlign": "center", "titleBaseline": "middle", "titleFontSize": 10, "titleAngle": 0}}
  },
  "layer": [
    {"mark": {"type": "line", "color": "#000", "strokeWidth": 1.3},
     "encoding": {
       "y": {"field": "mean", "type": "quantitative", "scale": {"domain": [-20, 60], "range": [698.7, 494.7], "nice": false, "zero": false},
         "axis": {"orient": "left", "offset": -173.3, "values": [-20, -10, 0, 10, 20, 30, 40, 50, 60], "domainColor": "#000", "domainWidth": 1.5, "tickColor": "#000", "tickWidth": 1.5, "tickSize": 4, "labelPadding": 3, "labelFontSize": 10,
           "title": ["Change of Membrane", "Potential (mV)"], "titleAngle": -90, "titleX": -56.3, "titleY": 560, "titleAlign": "center", "titleBaseline": "top", "titleLineHeight": 13.3, "titleFontSize": 10.3}},
       "strokeDash": {"field": "series", "type": "nominal", "scale": {"domain": ["Tonic", "Phasic"], "range": [[1, 0], [9, 5]]},
         "legend": {"orient": "none", "legendX": 199, "legendY": 497, "title": null, "symbolType": "M-1,0H-0.14M0.14,0H1M0.13,0A0.13,0.13,0,1,1,-0.13,0A0.13,0.13,0,1,1,0.13,0Z", "symbolSize": 2304, "symbolStrokeColor": "#000", "symbolStrokeWidth": 1.2, "labelFontSize": 10, "labelOffset": 6, "rowPadding": 7, "clipHeight": 12, "padding": 0, "labelColor": "#000"}}}},
    {"transform": [{"filter": "datum.ebar != null"}],
     "mark": {"type": "rule", "color": "#000", "strokeWidth": 1.2},
     "encoding": {"y": {"field": "mean", "type": "quantitative"}, "y2": {"field": "ebar"}}},
    {"transform": [{"filter": "datum.ebar != null"}],
     "mark": {"type": "tick", "orient": "horizontal", "size": 6, "thickness": 1.2, "color": "#000"},
     "encoding": {"y": {"field": "ebar", "type": "quantitative"}}},
    {"mark": {"type": "point", "filled": true, "size": 30, "stroke": "#000", "strokeWidth": 1, "opacity": 1},
     "encoding": {"y": {"field": "mean", "type": "quantitative"},
       "fill": {"field": "series", "type": "nominal", "scale": {"domain": ["Tonic", "Phasic"], "range": ["#000", "#fff"]},
         "legend": {"orient": "none", "legendX": 199, "legendY": 497, "title": null, "symbolType": "M-1,0H-0.14M0.14,0H1M0.13,0A0.13,0.13,0,1,1,-0.13,0A0.13,0.13,0,1,1,0.13,0Z", "symbolSize": 2304, "symbolStrokeColor": "#000", "symbolStrokeWidth": 1.2, "labelFontSize": 10, "labelOffset": 6, "rowPadding": 7, "clipHeight": 12, "padding": 0, "labelColor": "#000"}}}},
    {"transform": [{"filter": "datum.sig === '*'"}],
     "mark": {"type": "text", "fontSize": 18, "dx": 15, "dy": 6, "baseline": "alphabetic", "color": "#222"},
     "encoding": {"y": {"field": "mean", "type": "quantitative"}, "text": {"field": "sig"}}}
  ]
}
]
}
